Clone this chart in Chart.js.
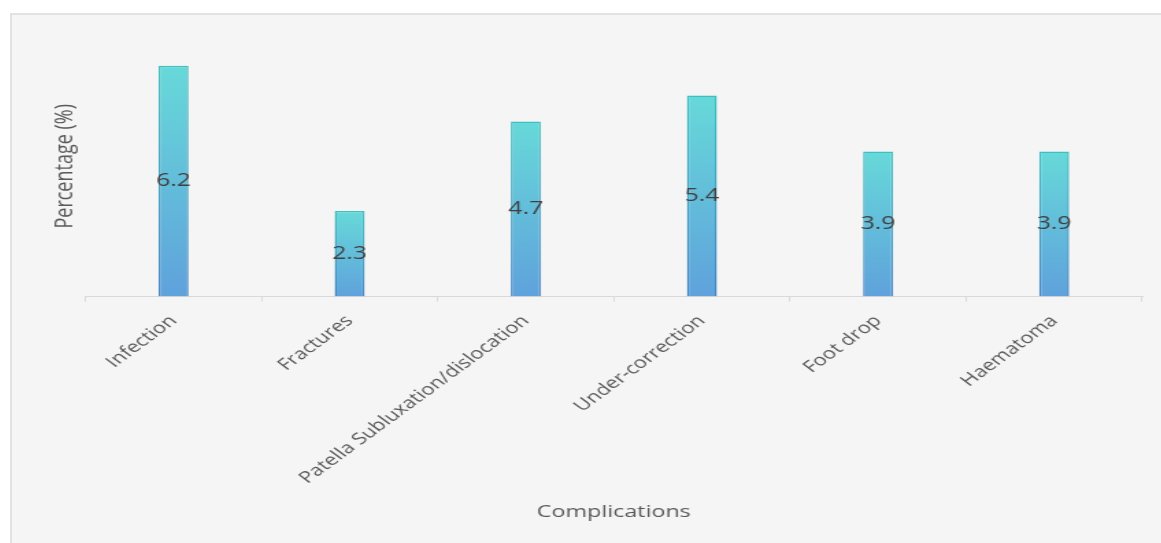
<!DOCTYPE html>
<html lang="en">
<head>
<meta charset="UTF-8" />
<title>Complications</title>
<script src="https://cdn.jsdelivr.net/npm/chart.js"></script>
<style>
  html, body { margin: 0; padding: 0; background: #ffffff; overflow: hidden; }
  #frame {
    position: absolute; left: 10px; top: 13px; width: 1151px; height: 530px;
    background: #f5f5f5; border-left: 2px solid #e2e2e2; border-top: 2px solid #e2e2e2;
    overflow: hidden;
  }
  /* the source picture is stretched sideways, so the chart is too */
  #wrap { width: 839px; height: 528px; transform: scaleX(1.37); transform-origin: 0 0; }
</style>
</head>
<body>
<div id="frame"><div id="wrap"><canvas id="chart"></canvas></div></div>
<script>
const categories = ["Infection", "Fractures", "Patella Subluxation/dislocation", "Under-correction", "Foot drop", "Haematoma"];
const percentages = [6.2, 2.3, 4.7, 5.4, 3.9, 3.9];
const yRange = [0, 7];

const FONT = "'Open Sans', 'Noto Sans', sans-serif";

function barGradient(c, top, bottom) {
  const ch = c.chart;
  if (!ch.chartArea || c.raw === undefined) return top;
  const y = ch.scales.y;
  const g = ch.ctx.createLinearGradient(0, y.getPixelForValue(c.raw), 0, y.getPixelForValue(0));
  g.addColorStop(0, top);
  g.addColorStop(1, bottom);
  return g;
}

// value written in the middle of each bar
const midLabels = {
  id: "midLabels",
  afterDatasetsDraw(chart) {
    const ctx = chart.ctx;
    ctx.save();
    ctx.font = "18px " + FONT;
    ctx.fillStyle = "#404040";
    ctx.textAlign = "center";
    ctx.textBaseline = "middle";
    chart.getDatasetMeta(0).data.forEach((bar, i) => {
      ctx.fillText(percentages[i].toFixed(1), bar.x, (bar.y + bar.base) / 2);
    });
    ctx.restore();
  }
};

new Chart(document.getElementById("chart"), {
  type: "bar",
  data: {
    labels: categories,
    datasets: [{
      data: percentages,
      backgroundColor: c => barGradient(c, "#67d9d9", "#5fa2dc"),
      borderColor: c => barGradient(c, "#3fbfbf", "#4484c6"),
      borderWidth: 1.5,
      barPercentage: 0.17,
      categoryPercentage: 1
    }]
  },
  options: {
    responsive: true,
    maintainAspectRatio: false,
    animation: false,
    layout: { padding: { left: 24, right: 14, top: 21, bottom: 21 } },
    plugins: { legend: { display: false }, tooltip: { enabled: false } },
    scales: {
      x: {
        afterFit: s => { s.paddingLeft = 0; s.paddingRight = 0; },
        grid: { drawOnChartArea: false, drawTicks: true, tickLength: 5, color: "#d9d9d9", offset: true },
        border: { color: "#d9d9d9" },
        ticks: { color: "#595959", font: { family: FONT, size: 16 }, minRotation: 45, maxRotation: 45, autoSkip: false, padding: 10 },
        title: { display: true, text: "Complications", color: "#595959", font: { family: FONT, size: 17 }, padding: { top: 4, bottom: 0 } }
      },
      y: {
        min: yRange[0],
        max: yRange[1],
        grid: { display: false, drawTicks: false },
        border: { display: false },
        ticks: { display: false },
        title: { display: true, text: "Percentage (%)", color: "#595959", font: { family: FONT, size: 18 } }
      }
    }
  },
  plugins: [midLabels]
});
</script>
</body>
</html>
